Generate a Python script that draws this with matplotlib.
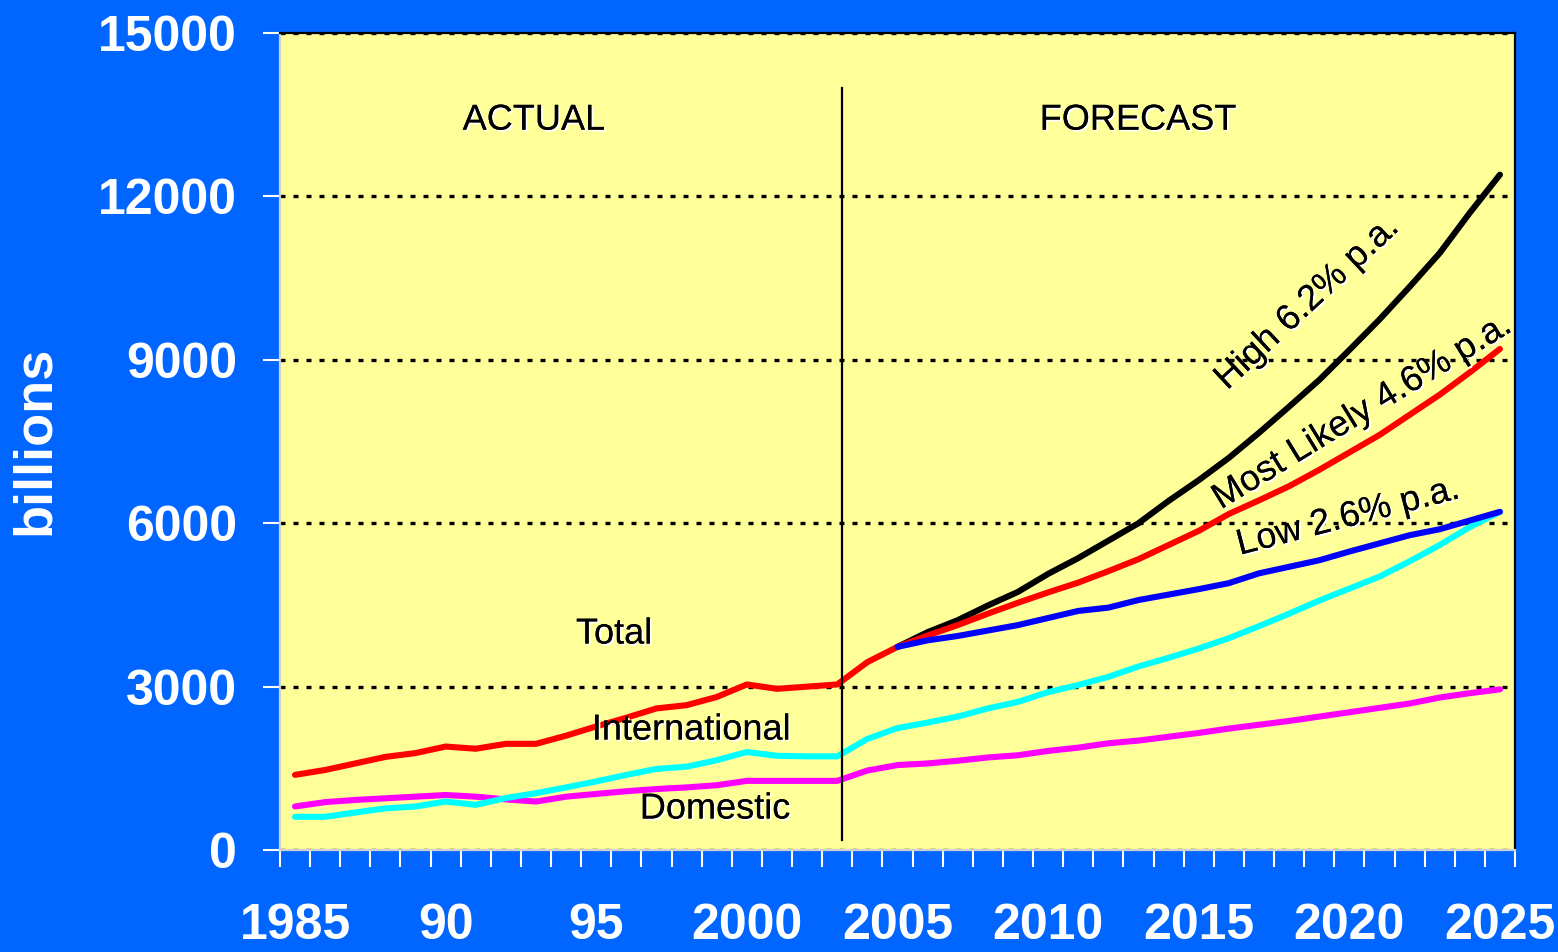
import matplotlib
matplotlib.use("Agg")
import matplotlib.pyplot as plt
import matplotlib.patheffects as pe
import numpy as np

# years on the category axis
years = list(range(1985, 2026))
forecast_years = list(range(2005, 2026))

# passengers, billions
total = [1380, 1470, 1590, 1710, 1780, 1900, 1860, 1950, 1950, 2100,
         2270, 2430, 2600, 2660, 2810, 3040, 2960, 3000, 3040, 3450,
         3730, 3940, 4130, 4340, 4540, 4730, 4910, 5120, 5340, 5600,
         5860, 6170, 6420, 6680, 6980, 7300, 7620, 7990, 8360, 8770,
         9200]
international = [610, 610, 690, 765, 800, 890, 830, 955, 1045, 1150,
                 1260, 1380, 1490, 1530, 1650, 1800, 1730, 1720, 1720, 2040,
                 2240, 2340, 2450, 2600, 2720, 2900, 3030, 3180, 3370, 3530,
                 3700, 3890, 4110, 4340, 4580, 4800, 5020, 5300, 5600, 5930,
                 6210]
domestic = [800, 880, 920, 950, 980, 1010, 980, 930, 890, 980,
            1030, 1080, 1120, 1150, 1190, 1270, 1270, 1270, 1270, 1460,
            1560, 1590, 1640, 1700, 1740, 1820, 1880, 1960, 2010, 2080,
            2150, 2230, 2300, 2370, 2450, 2530, 2610, 2690, 2800, 2880,
            2950]
high = [3730, 4000, 4220, 4490, 4740, 5070, 5360, 5680, 6000, 6410,
        6790, 7200, 7660, 8140, 8630, 9180, 9740, 10340, 10960, 11700,
        12400]
low = [3730, 3850, 3930, 4030, 4130, 4260, 4390, 4450, 4590, 4690,
       4790, 4900, 5080, 5200, 5320, 5480, 5630, 5780, 5890, 6050,
       6210]

xtick_years = [1985, 1990, 1995, 2000, 2005, 2010, 2015, 2020, 2025]
xtick_labels = ["1985", "90", "95", "2000", "2005", "2010", "2015", "2020", "2025"]
yticks = [0, 3000, 6000, 9000, 12000, 15000]
split_year = 2003.15

BG = "#0066FF"
PANEL = "#FFFF99"
FONT = "Liberation Sans"


def main():
    fig = plt.figure(figsize=(15.58, 9.52), dpi=100, facecolor=BG)
    ax = fig.add_axes([0.1797, 0.1071, 0.7927, 0.8582])
    ax.set_facecolor(PANEL)

    lw = 4.4
    style = dict(linewidth=lw, solid_capstyle="round", solid_joinstyle="round")
    ax.plot(years, domestic, color="#FF00FF", zorder=3, **style)
    ax.plot(years, international, color="#00FFFF", zorder=3, **style)
    ax.plot(forecast_years, high, color="black", zorder=4, **style)
    ax.plot(years, total, color="#FF0000", zorder=5, **style)
    ax.plot(forecast_years, low, color="#0000FF", zorder=6, **style)

    # actual / forecast divider
    ax.plot([split_year, split_year], [180, 14000], color="black", linewidth=1.6, zorder=7)

    ax.set_xlim(1984.5, 2025.5)
    ax.set_ylim(0, 15000)

    ax.yaxis.grid(True, color="black", linewidth=2.4, linestyle=(0, (1.5, 2.4)))
    ax.set_axisbelow(True)

    ax.set_yticks(yticks)
    ax.set_yticklabels([str(v) for v in yticks])
    ax.set_xticks(xtick_years)
    ax.set_xticklabels(xtick_labels)
    ax.set_xticks(np.arange(1984.5, 2026, 1), minor=True)

    ax.tick_params(axis="y", colors="white", length=12, width=1.5, pad=19,
                   labelsize=36)
    ax.tick_params(axis="x", which="major", length=0, pad=38, colors="white",
                   labelsize=36)
    ax.tick_params(axis="x", which="minor", length=12, width=1.5, colors="white")
    for lab in ax.get_yticklabels() + ax.get_xticklabels():
        lab.set_fontfamily(FONT)
        lab.set_fontweight("bold")

    ax.spines["left"].set_color("#D0D0D0")
    ax.spines["bottom"].set_color("#D0D0D0")
    ax.spines["top"].set_color("black")
    ax.spines["right"].set_color("black")
    for s in ax.spines.values():
        s.set_linewidth(1.6)

    shadow = [pe.withSimplePatchShadow(offset=(1.3, -1.3), shadow_rgbFace="white", alpha=1.0),
              pe.Normal()]
    txt = dict(fontsize=26, family=FONT, color="black", ha="center", va="center",
               path_effects=shadow, zorder=8)
    ax.text(1992.93, 13400, "ACTUAL", **txt)
    ax.text(2012.99, 13400, "FORECAST", **txt)
    ax.text(1995.59, 3966, "Total", **txt)
    ax.text(1998.15, 2203, "International", **txt)
    ax.text(1998.94, 753, "Domestic", **txt)
    ax.text(2018.6, 10042, "High 6.2% p.a.", rotation=43, rotation_mode="anchor", **txt)
    ax.text(2020.42, 8041, "Most Likely 4.6% p.a.", rotation=31.5, rotation_mode="anchor", **txt)
    ax.text(2019.96, 6113, "Low 2.6% p.a.", rotation=14.5, rotation_mode="anchor", **txt)

    fig.text(35 / 1558, 1 - 440 / 952, "billions", rotation=90, color="white",
             fontsize=39, fontweight="bold", family=FONT, ha="center", va="center")

    fig.savefig("out.png", dpi=100, facecolor=BG)


if __name__ == "__main__":
    main()
